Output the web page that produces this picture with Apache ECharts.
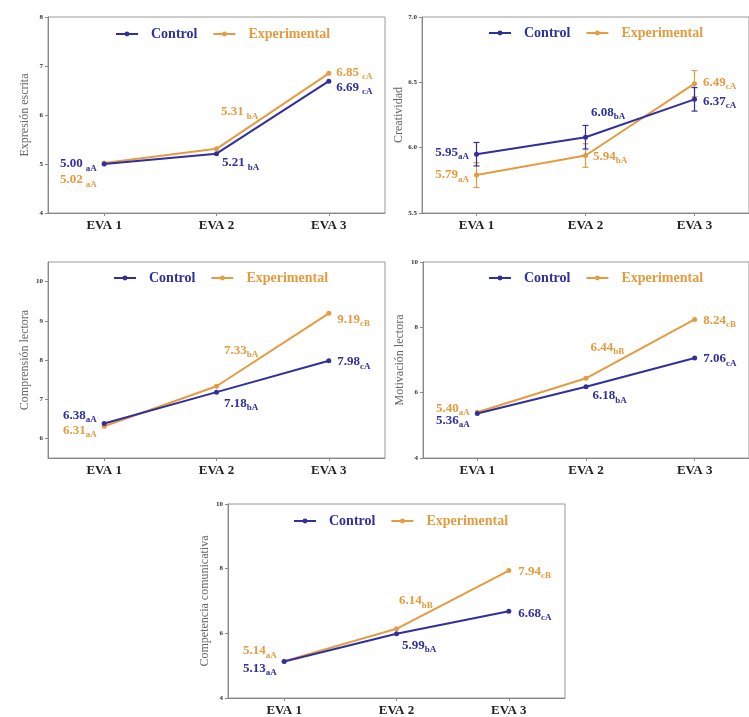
<!DOCTYPE html>
<html><head><meta charset="utf-8">
<script src="https://cdn.jsdelivr.net/npm/echarts@6/dist/echarts.min.js"></script>
<style>html,body{margin:0;padding:0;background:#fff}#c{width:749px;height:717px}</style>
</head><body><div id="c"></div>
<script>
// ---------- data ----------
const categories = ['EVA 1', 'EVA 2', 'EVA 3'];

const expresionControl = [5.00, 5.21, 6.69];
const expresionExperimental = [5.02, 5.31, 6.85];
const expresionControlLetters = ['aA', 'bA', 'cA'];
const expresionExperimentalLetters = ['aA', 'bA', 'cA'];

const creatividadControl = [5.95, 6.08, 6.37];
const creatividadExperimental = [5.79, 5.94, 6.49];
const creatividadControlErr = [0.09, 0.09, 0.09];
const creatividadExperimentalErr = [0.095, 0.09, 0.10];
const creatividadControlLetters = ['aA', 'bA', 'cA'];
const creatividadExperimentalLetters = ['aA', 'bA', 'cA'];

const comprensionControl = [6.38, 7.18, 7.98];
const comprensionExperimental = [6.31, 7.33, 9.19];
const comprensionControlLetters = ['aA', 'bA', 'cA'];
const comprensionExperimentalLetters = ['aA', 'bA', 'cB'];

const motivacionControl = [5.36, 6.18, 7.06];
const motivacionExperimental = [5.40, 6.44, 8.24];
const motivacionControlLetters = ['aA', 'bA', 'cA'];
const motivacionExperimentalLetters = ['aA', 'bB', 'cB'];

const competenciaControl = [5.13, 5.99, 6.68];
const competenciaExperimental = [5.14, 6.14, 7.94];
const competenciaControlLetters = ['aA', 'bA', 'cA'];
const competenciaExperimentalLetters = ['aA', 'bB', 'cB'];

const yTicks1 = [4, 5, 6, 7, 8];
const yTicks2 = [5.5, 6.0, 6.5, 7.0];
const yTicks3 = [6, 7, 8, 9, 10];
const yTicks4 = [4, 6, 8, 10];
const yTicks5 = [4, 6, 8, 10];

// ---------- styles / layout ----------
const BLUE = '#2f2f9e', ORANGE = '#e39c40';
const FONT = '"Liberation Serif", "Times New Roman", serif';

const panels = [
  { name: 'Expresión escrita', c: expresionControl, e: expresionExperimental,
    cl: expresionControlLetters, el: expresionExperimentalLetters, ticks: yTicks1, min: 4, max: 8, dec: 0,
    left: 48, top: 17, legLeft: 115, legTop: 27, subPad: 3,
    cLab: [['left', 0, 0], ['right', -2, 9], ['right', 0, 6]],
    eLab: [['left', 0, 17], ['right', -3, -37], ['right', 0, -1]] },
  { name: 'Creatividad', c: creatividadControl, e: creatividadExperimental,
    cl: creatividadControlLetters, el: creatividadExperimentalLetters, ticks: yTicks2, min: 5.5, max: 7, dec: 1,
    left: 422, top: 17, legLeft: 488, legTop: 26, subPad: 0,
    cErr: creatividadControlErr, eErr: creatividadExperimentalErr,
    cLab: [['left', 0, -2], ['right', -2, -25], ['right', 1, 2]],
    eLab: [['left', 0, 0], ['right', 0, 1], ['right', 1, -1]] },
  { name: 'Comprensión lectora', c: comprensionControl, e: comprensionExperimental,
    cl: comprensionControlLetters, el: comprensionExperimentalLetters, ticks: yTicks3, min: 5.5, max: 10.5, dec: 0,
    left: 48, top: 262, legLeft: 113, legTop: 271, subPad: 0,
    cLab: [['left', 0, -8], ['right', 0, 11], ['right', 1, 1]],
    eLab: [['left', 0, 4], ['right', 0, -36], ['right', 1, 6]] },
  { name: 'Motivación lectora', c: motivacionControl, e: motivacionExperimental,
    cl: motivacionControlLetters, el: motivacionExperimentalLetters, ticks: yTicks4, min: 4, max: 10, dec: 0,
    left: 423, top: 262, legLeft: 488, legTop: 271, subPad: 0,
    cLab: [['left', 0, 7], ['right', -1, 9], ['right', 1, 1]],
    eLab: [['left', 0, -4], ['right', -3, -31], ['right', 1, 1]] },
  { name: 'Competencia comunicativa', c: competenciaControl, e: competenciaExperimental,
    cl: competenciaControlLetters, el: competenciaExperimentalLetters, ticks: yTicks5, min: 4, max: 10, dec: 0,
    left: 228, top: 504, legLeft: 293, legTop: 514, subPad: 0,
    cLab: [['left', 0, 7], ['right', -2, 12], ['right', 2, 2]],
    eLab: [['left', 0, -10], ['right', -5, -28], ['right', 2, 1]] }
];

function richFor(color, subPad) {
  return {
    v: { fontFamily: FONT, fontWeight: 'bold', fontSize: 13, color: color, lineHeight: 18 },
    s: { fontFamily: FONT, fontWeight: 'bold', fontSize: 9, color: color, verticalAlign: 'bottom', lineHeight: 12, padding: [0, 0, 0, subPad] }
  };
}

function mkData(vals, letters, labs) {
  return vals.map((v, k) => ({
    value: v,
    label: {
      show: true, position: labs[k][0], offset: [labs[k][1], labs[k][2]], distance: 5,
      formatter: '{v|' + v.toFixed(2) + '}{s|' + letters[k] + '}'
    }
  }));
}

function errSeries(i, vals, errs, color) {
  return {
    type: 'custom', name: 'err' + color, xAxisIndex: i, yAxisIndex: i, z: 2,
    data: vals.map((v, k) => [k, v, errs[k]]),
    encode: { x: 0, y: 1 },
    renderItem: function (params, api) {
      const x = api.value(0), y = api.value(1), e = api.value(2);
      const t = api.coord([x, y + e]), b = api.coord([x, y - e]);
      const w = 3, st = { stroke: color, lineWidth: 1.2 };
      return { type: 'group', children: [
        { type: 'line', shape: { x1: t[0], y1: t[1], x2: b[0], y2: b[1] }, style: st },
        { type: 'line', shape: { x1: t[0] - w, y1: t[1], x2: t[0] + w, y2: t[1] }, style: st },
        { type: 'line', shape: { x1: b[0] - w, y1: b[1], x2: b[0] + w, y2: b[1] }, style: st }
      ] };
    }
  };
}

const option = { backgroundColor: '#fff', animation: false, grid: [], xAxis: [], yAxis: [], legend: [], series: [] };

panels.forEach((p, i) => {
  option.grid.push({ left: p.left, top: p.top, width: 337, height: 196, show: true,
    borderColor: '#9a9a9a', borderWidth: 1, backgroundColor: '#fff' });
  option.xAxis.push({ type: 'category', gridIndex: i, data: categories, boundaryGap: true,
    axisLine: { lineStyle: { color: '#888', width: 1 } },
    axisTick: { show: true, alignWithLabel: true, length: 3, lineStyle: { color: '#888' } },
    axisLabel: { fontFamily: FONT, fontWeight: 'bold', fontSize: 13, color: '#222', margin: 6 } });
  option.yAxis.push({ type: 'value', gridIndex: i, min: p.min, max: p.max,
    splitLine: { show: false },
    axisLine: { show: true, lineStyle: { color: '#888' } },
    axisTick: { show: true, length: 3, customValues: p.ticks, lineStyle: { color: '#888' } },
    axisLabel: { customValues: p.ticks, fontSize: 7, fontWeight: 'bold', fontFamily: FONT, color: '#333', margin: 5,
      formatter: v => Number(v).toFixed(p.dec) },
    name: p.name, nameLocation: 'middle', nameGap: 17,
    nameTextStyle: { fontFamily: FONT, fontSize: 12, color: '#666' } });
  option.legend.push({ left: p.legLeft, top: p.legTop, orient: 'horizontal', selectedMode: false,
    itemWidth: 22, itemHeight: 6, itemGap: 15, padding: 0,
    data: [{ name: 'Control', textStyle: { color: BLUE } }, { name: 'Experimental', textStyle: { color: ORANGE } }],
    textStyle: { fontFamily: FONT, fontWeight: 'bold', fontSize: 14, padding: [0, 0, 0, 8] } });

  if (p.cErr) {
    option.series.push(errSeries(i, p.e, p.eErr, ORANGE));
    option.series.push(errSeries(i, p.c, p.cErr, BLUE));
  }
  option.series.push({ type: 'line', name: 'Experimental', xAxisIndex: i, yAxisIndex: i, z: 3,
    symbol: 'circle', symbolSize: 5, itemStyle: { color: ORANGE }, lineStyle: { color: ORANGE, width: 2 },
    label: { rich: richFor(ORANGE, p.subPad) },
    data: mkData(p.e, p.el, p.eLab) });
  option.series.push({ type: 'line', name: 'Control', xAxisIndex: i, yAxisIndex: i, z: 4,
    symbol: 'circle', symbolSize: 5, itemStyle: { color: BLUE }, lineStyle: { color: BLUE, width: 2 },
    label: { rich: richFor(BLUE, p.subPad) },
    data: mkData(p.c, p.cl, p.cLab) });
});

const chart = echarts.init(document.getElementById('c'), null, { renderer: 'canvas' });
chart.setOption(option);
</script>
</body></html>
